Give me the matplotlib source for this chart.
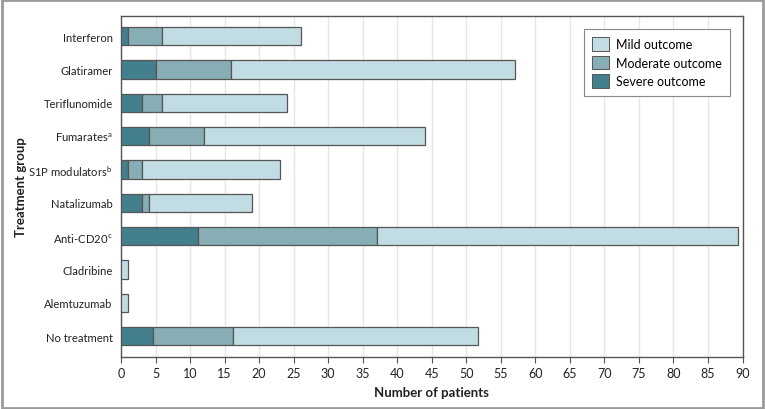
import matplotlib
matplotlib.use("Agg")
import matplotlib.pyplot as plt
from matplotlib.patches import Rectangle, Patch

plt.rcParams['font.family'] = ['Lato', 'DejaVu Sans']
plt.rcParams['mathtext.fontset'] = 'custom'
plt.rcParams['mathtext.rm'] = 'Lato'

# Data
groups = ['Interferon', 'Glatiramer', 'Teriflunomide', 'Fumarates$^{\\mathrm{a}}$',
          'S1P modulators$^{\\mathrm{b}}$', 'Natalizumab', 'Anti-CD20$^{\\mathrm{c}}$',
          'Cladribine', 'Alemtuzumab', 'No treatment']
severe = [1, 5, 3, 4, 1, 3, 11.1, 0, 0, 4.7]
moderate = [5, 11, 3, 8, 2, 1, 25.9, 0, 0, 11.5]
mild = [20, 41, 18, 32, 20, 15, 52.4, 1, 1, 35.5]

c_severe = '#437f8c'
c_moderate = '#87adb5'
c_mild = '#c1dde3'
edge = '#555555'

fig = plt.figure(figsize=(7.65, 4.1), dpi=100)
ax = fig.add_axes([121/765, 1 - 358/410, (742.5 - 121)/765, (358 - 17)/410])

pos = list(range(len(groups)))
left_mod = [s for s in severe]
left_mild = [s + m for s, m in zip(severe, moderate)]

ax.barh(pos, severe, height=0.55, color=c_severe, edgecolor=edge, linewidth=0.9, zorder=3)
ax.barh(pos, moderate, left=left_mod, height=0.55, color=c_moderate, edgecolor=edge, linewidth=0.9, zorder=3)
ax.barh(pos, mild, left=left_mild, height=0.55, color=c_mild, edgecolor=edge, linewidth=0.9, zorder=3)

ax.set_xlim(0, 90)
ax.set_ylim(len(groups) - 0.38, -0.6)
ax.set_xticks(range(0, 91, 5))
ax.set_yticks(pos)
ax.set_yticklabels(groups, fontsize=8.1, color='#222222')
ax.tick_params(axis='x', labelsize=9, colors='#222222', length=4, width=0.8, color='#555555')
ax.tick_params(axis='y', length=0, pad=6)
ax.grid(axis='x', color='#e6e6e6', linewidth=1, zorder=0)
for s in ax.spines.values():
    s.set_color('#555555')
    s.set_linewidth(1)

ax.set_xlabel('Number of patients', fontsize=9.5, fontweight='bold', color='#222222', labelpad=5)
ax.set_ylabel('Treatment group', fontsize=9.5, fontweight='bold', color='#222222')
ax.yaxis.set_label_coords(-0.152, 0.5)

handles = [Patch(facecolor=c_mild, edgecolor=edge, linewidth=0.7, label='Mild outcome'),
           Patch(facecolor=c_moderate, edgecolor=edge, linewidth=0.7, label='Moderate outcome'),
           Patch(facecolor=c_severe, edgecolor=edge, linewidth=0.7, label='Severe outcome')]
leg = ax.legend(handles=handles, loc='upper right', bbox_to_anchor=(0.98, 0.962), borderaxespad=0,
                fontsize=9, fancybox=False, framealpha=1, edgecolor='#888888', handlelength=1.3,
                handleheight=1.3, labelspacing=0.4, borderpad=0.65, handletextpad=0.6)
leg.get_frame().set_linewidth(0.8)

# outer frame
fig.patches.append(Rectangle((0.002, 0.003), 0.996, 0.994, transform=fig.transFigure,
                             fill=False, edgecolor='#9a9a9a', linewidth=2))

fig.savefig('out.png', dpi=100)
